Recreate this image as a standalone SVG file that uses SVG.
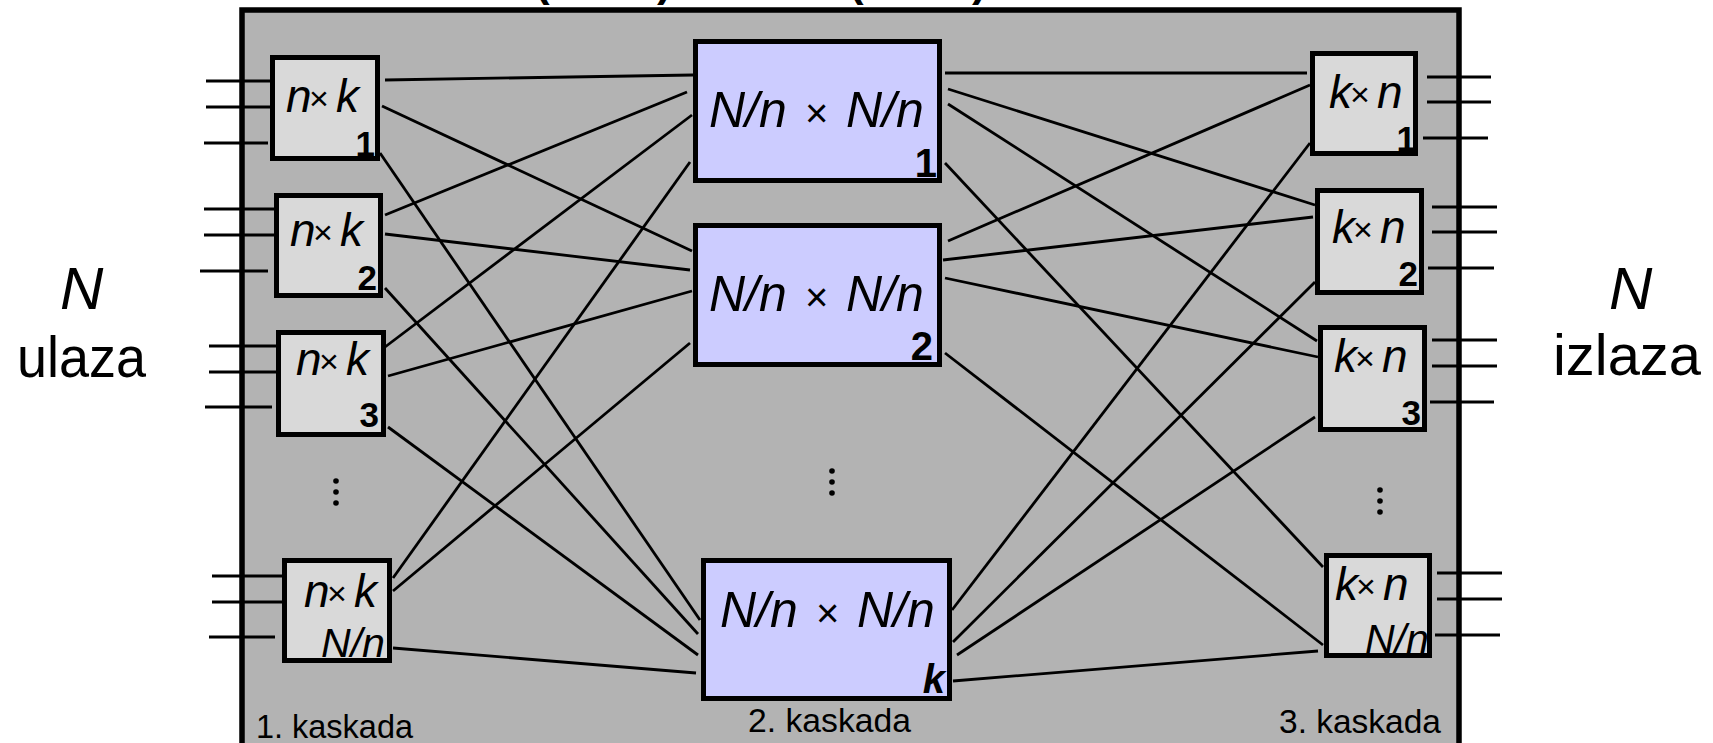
<svg xmlns="http://www.w3.org/2000/svg" width="1713" height="743" viewBox="0 0 1713 743">
<style>
.outer{fill:#b3b3b3;stroke:#000;stroke-width:5.5}
.s13{fill:#d9d9d9;stroke:#000;stroke-width:5}
.s2{fill:#ccccff;stroke:#000;stroke-width:5}
.wire{stroke:#000;stroke-width:2.8;fill:none}
text{font-family:"Liberation Sans",Arial,sans-serif;fill:#000}
.it{font-style:italic;font-size:46px}
.x{font-style:normal;font-size:34px}
.x2{font-style:normal;font-size:40px}
.nn{font-style:italic;font-size:50px}
.idx{font-weight:bold;font-size:35px;text-anchor:end}
.idx2{font-weight:bold;font-size:40px;text-anchor:end}
.sub{font-style:italic;font-size:40px}
.stage{font-size:34px}
.big{font-size:58px}
.bigN{font-style:italic;font-size:60px}
.par{font-size:44px;font-weight:bold}
</style>

<!-- partially visible text at top edge -->
<g id="top-text">
<text class="par" x="535" y="-4">(</text>
<text class="par" x="657" y="-4">)</text>
<text class="par" x="849" y="-4">(</text>
<text class="par" x="972" y="-4">)</text>
</g>

<g id="frame">
<rect class="outer" x="242" y="10" width="1217" height="800"/>
</g>

<g id="side-labels">
<text class="bigN" x="60" y="309">N</text>
<text class="big" x="17" y="377" textLength="129" lengthAdjust="spacingAndGlyphs">ulaza</text>
<text class="bigN" x="1609" y="309">N</text>
<text class="big" x="1553" y="375" textLength="148" lengthAdjust="spacingAndGlyphs">izlaza</text>
</g>

<g id="connectors">
<!-- input stubs -->
<line class="wire" x1="206" y1="81" x2="272" y2="81"/>
<line class="wire" x1="206" y1="107" x2="272" y2="107"/>
<line class="wire" x1="204" y1="143" x2="268" y2="143"/>
<line class="wire" x1="204" y1="209" x2="276" y2="209"/>
<line class="wire" x1="204" y1="235" x2="276" y2="235"/>
<line class="wire" x1="200" y1="271" x2="268" y2="271"/>
<line class="wire" x1="209" y1="346" x2="278" y2="346"/>
<line class="wire" x1="209" y1="372" x2="278" y2="372"/>
<line class="wire" x1="205" y1="407" x2="272" y2="407"/>
<line class="wire" x1="212" y1="576" x2="284" y2="576"/>
<line class="wire" x1="212" y1="602" x2="284" y2="602"/>
<line class="wire" x1="209" y1="637" x2="275" y2="637"/>
<!-- output stubs -->
<line class="wire" x1="1427" y1="77" x2="1491" y2="77"/>
<line class="wire" x1="1427" y1="102" x2="1491" y2="102"/>
<line class="wire" x1="1423" y1="138" x2="1488" y2="138"/>
<line class="wire" x1="1432" y1="207" x2="1497" y2="207"/>
<line class="wire" x1="1432" y1="232" x2="1497" y2="232"/>
<line class="wire" x1="1428" y1="268" x2="1494" y2="268"/>
<line class="wire" x1="1432" y1="340" x2="1497" y2="340"/>
<line class="wire" x1="1432" y1="366" x2="1497" y2="366"/>
<line class="wire" x1="1430" y1="402" x2="1494" y2="402"/>
<line class="wire" x1="1437" y1="573" x2="1502" y2="573"/>
<line class="wire" x1="1437" y1="599" x2="1502" y2="599"/>
<line class="wire" x1="1435" y1="635" x2="1500" y2="635"/>
<!-- stage 1 -> stage 2 -->
<line class="wire" x1="385" y1="80" x2="693" y2="75"/>
<line class="wire" x1="382" y1="106" x2="692" y2="251"/>
<line class="wire" x1="380" y1="153" x2="700" y2="620"/>
<line class="wire" x1="385" y1="215" x2="687" y2="92"/>
<line class="wire" x1="385" y1="234" x2="690" y2="270"/>
<line class="wire" x1="385" y1="288" x2="698" y2="634"/>
<line class="wire" x1="385" y1="347" x2="692" y2="115"/>
<line class="wire" x1="388" y1="376" x2="692" y2="291"/>
<line class="wire" x1="388" y1="427" x2="698" y2="655"/>
<line class="wire" x1="393" y1="578" x2="690" y2="162"/>
<line class="wire" x1="393" y1="591" x2="690" y2="343"/>
<line class="wire" x1="393" y1="648" x2="696" y2="673"/>
<!-- stage 2 -> stage 3 -->
<line class="wire" x1="945" y1="73" x2="1307" y2="73"/>
<line class="wire" x1="948" y1="89" x2="1315" y2="205"/>
<line class="wire" x1="948" y1="104" x2="1317" y2="341"/>
<line class="wire" x1="945" y1="163" x2="1323" y2="567"/>
<line class="wire" x1="948" y1="241" x2="1310" y2="85"/>
<line class="wire" x1="943" y1="260" x2="1313" y2="217"/>
<line class="wire" x1="945" y1="278" x2="1318" y2="357"/>
<line class="wire" x1="945" y1="353" x2="1323" y2="645"/>
<line class="wire" x1="952" y1="610" x2="1310" y2="143"/>
<line class="wire" x1="953" y1="642" x2="1315" y2="282"/>
<line class="wire" x1="957" y1="655" x2="1315" y2="417"/>
<line class="wire" x1="953" y1="681" x2="1318" y2="651"/>
</g>

<!-- stage 1 -->
<g id="s1-1">
<rect class="s13" x="272.5" y="57.5" width="105" height="101"/>
<text class="it" y="112"><tspan x="286">n</tspan><tspan class="x" x="309" dy="-2">×</tspan><tspan x="336" dy="2">k</tspan></text>
<text class="idx" x="375" y="156">1</text>
</g>
<g id="s1-2">
<rect class="s13" x="276.5" y="195.5" width="104" height="100"/>
<text class="it" y="246"><tspan x="290">n</tspan><tspan class="x" x="313" dy="-2">×</tspan><tspan x="340" dy="2">k</tspan></text>
<text class="idx" x="377" y="290">2</text>
</g>
<g id="s1-3">
<rect class="s13" x="278.5" y="332.5" width="105" height="102"/>
<text class="it" y="375"><tspan x="296">n</tspan><tspan class="x" x="319" dy="-2">×</tspan><tspan x="346" dy="2">k</tspan></text>
<text class="idx" x="379" y="427">3</text>
</g>
<g id="s1-Nn">
<rect class="s13" x="284.5" y="560.5" width="105" height="100"/>
<text class="it" y="607"><tspan x="304">n</tspan><tspan class="x" x="327" dy="-2">×</tspan><tspan x="354" dy="2">k</tspan></text>
<text class="sub" x="321" y="657" textLength="64" lengthAdjust="spacingAndGlyphs">N/n</text>
</g>
<g id="s1-dots">
<circle cx="336" cy="481" r="2.8"/>
<circle cx="336" cy="492" r="2.8"/>
<circle cx="336" cy="503" r="2.8"/>
</g>

<!-- stage 2 -->
<g id="s2-1">
<rect class="s2" x="695.5" y="41.5" width="244" height="139"/>
<text class="nn" y="127"><tspan x="709">N/n</tspan><tspan class="x2" x="805">×</tspan><tspan x="846">N/n</tspan></text>
<text class="idx2" x="937" y="177">1</text>
</g>
<g id="s2-2">
<rect class="s2" x="695.5" y="225.5" width="244" height="139"/>
<text class="nn" y="311"><tspan x="709">N/n</tspan><tspan class="x2" x="805">×</tspan><tspan x="846">N/n</tspan></text>
<text class="idx2" x="933" y="360">2</text>
</g>
<g id="s2-k">
<rect class="s2" x="703.5" y="560.5" width="246" height="138"/>
<text class="nn" y="627"><tspan x="720">N/n</tspan><tspan class="x2" x="816">×</tspan><tspan x="857">N/n</tspan></text>
<text class="idx2" x="945" y="693" font-style="italic">k</text>
</g>
<g id="s2-dots">
<circle cx="832" cy="471" r="2.8"/>
<circle cx="832" cy="482" r="2.8"/>
<circle cx="832" cy="493" r="2.8"/>
</g>

<!-- stage 3 -->
<g id="s3-1">
<rect class="s13" x="1312.5" y="53.5" width="103" height="100"/>
<text class="it" y="108"><tspan x="1329">k</tspan><tspan class="x" x="1350" dy="-2">×</tspan><tspan x="1377" dy="2">n</tspan></text>
<text class="idx" x="1416" y="151">1</text>
</g>
<g id="s3-2">
<rect class="s13" x="1317.5" y="190.5" width="104" height="102"/>
<text class="it" y="243"><tspan x="1332">k</tspan><tspan class="x" x="1353" dy="-2">×</tspan><tspan x="1380" dy="2">n</tspan></text>
<text class="idx" x="1418" y="286">2</text>
</g>
<g id="s3-3">
<rect class="s13" x="1320.5" y="327.5" width="104" height="102"/>
<text class="it" y="372"><tspan x="1334">k</tspan><tspan class="x" x="1355" dy="-2">×</tspan><tspan x="1382" dy="2">n</tspan></text>
<text class="idx" x="1421" y="425">3</text>
</g>
<g id="s3-Nn">
<rect class="s13" x="1326.5" y="555.5" width="103" height="100"/>
<text class="it" y="600"><tspan x="1335">k</tspan><tspan class="x" x="1356" dy="-2">×</tspan><tspan x="1383" dy="2">n</tspan></text>
<text class="sub" x="1365" y="653" textLength="64" lengthAdjust="spacingAndGlyphs">N/n</text>
</g>
<g id="s3-dots">
<circle cx="1380" cy="490" r="2.8"/>
<circle cx="1380" cy="501" r="2.8"/>
<circle cx="1380" cy="512" r="2.8"/>
</g>

<g id="stage-labels">
<text class="stage" x="256" y="738" textLength="157" lengthAdjust="spacingAndGlyphs">1. kaskada</text>
<text class="stage" x="748" y="732" textLength="163" lengthAdjust="spacingAndGlyphs">2. kaskada</text>
<text class="stage" x="1279" y="733" textLength="162" lengthAdjust="spacingAndGlyphs">3. kaskada</text>
</g>
</svg>
